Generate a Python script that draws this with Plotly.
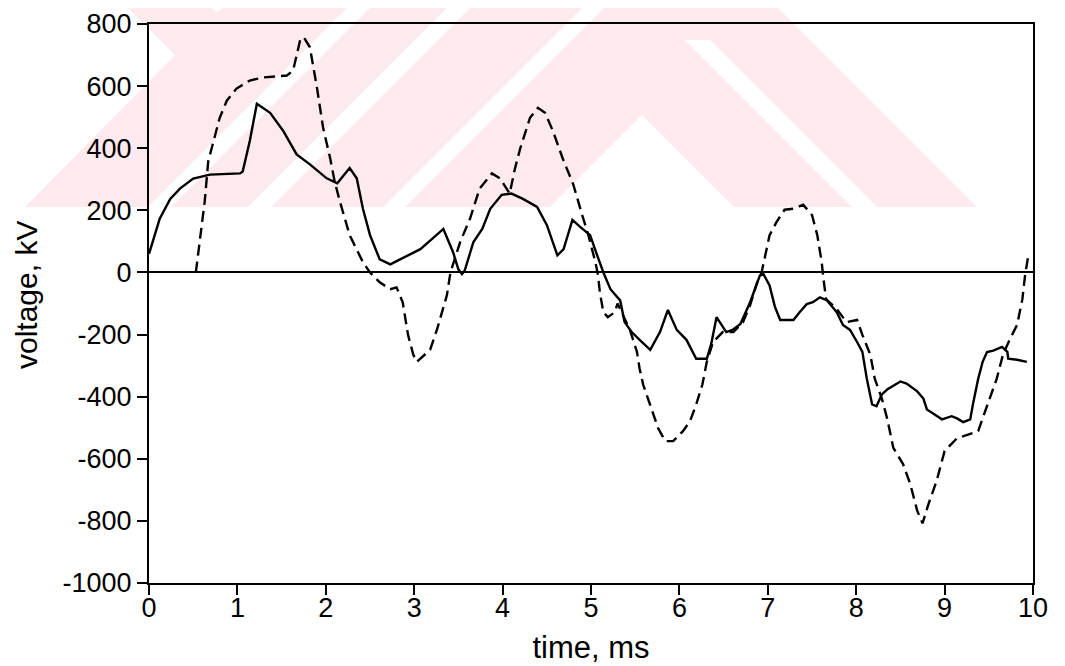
import plotly.graph_objects as go

# ---------------- data ----------------
solid_t = [0, 0.12, 0.24, 0.35, 0.5, 0.69, 1.03, 1.06, 1.14, 1.22, 1.37, 1.52, 1.67, 1.82,
           2.01, 2.13, 2.27, 2.35, 2.42, 2.5, 2.61, 2.73, 2.84, 3.07, 3.33, 3.44, 3.5, 3.54,
           3.57, 3.67, 3.77, 3.86, 3.99, 4.1, 4.23, 4.39, 4.5, 4.62, 4.69, 4.79, 4.88, 4.99,
           5.07, 5.14, 5.22, 5.33, 5.38, 5.46, 5.55, 5.67, 5.78, 5.87, 5.97, 6.08, 6.19,
           6.31, 6.36, 6.42, 6.53, 6.6, 6.69, 6.8, 6.91, 6.95, 7.02, 7.08, 7.14, 7.29, 7.36,
           7.44, 7.51, 7.59, 7.67, 7.78, 7.85, 7.93, 8.01, 8.07, 8.12, 8.18, 8.23, 8.29,
           8.35, 8.5, 8.57, 8.69, 8.76, 8.8, 8.87, 8.97, 9.08, 9.14, 9.21, 9.29, 9.32, 9.38,
           9.43, 9.48, 9.55, 9.65, 9.71, 9.72, 9.82, 9.93]
solid_kv = [60, 172, 237, 270, 302, 315, 319, 325, 423, 543, 514, 455, 380, 348,
            303, 287, 336, 303, 205, 120, 42, 26, 42, 75, 140, 65, 10, -5,
            5, 98, 140, 205, 250, 254, 237, 211, 153, 55, 75, 169, 146, 120,
            55, 0, -54, -90, -160, -192, -217, -249, -192, -121, -185, -217, -278,
            -278, -230, -144, -192, -185, -166, -96, -10, -5, -42, -110, -153, -153, -128,
            -102, -96, -80, -90, -128, -169, -185, -224, -256, -342, -425, -431, -393,
            -377, -351, -358, -383, -406, -441, -454, -473, -463, -470, -482, -473, -425, -342,
            -288, -256, -252, -240, -256, -278, -281, -288]

dashed_t = [0.53, 0.58, 0.63, 0.67, 0.73, 0.8, 0.88, 0.99, 1.14, 1.29, 1.56, 1.63, 1.71,
            1.75, 1.82, 1.9, 1.97, 2.05, 2.1, 2.16, 2.27, 2.42, 2.5, 2.61, 2.73, 2.8, 2.87,
            2.93, 2.99, 3.03, 3.18, 3.26, 3.37, 3.41, 3.52, 3.63, 3.74, 3.88, 3.97, 4.08,
            4.14, 4.2, 4.31, 4.4, 4.48, 4.57, 4.68, 4.8, 4.9, 4.97, 5.05, 5.08, 5.1, 5.14,
            5.19, 5.27, 5.3, 5.44, 5.52, 5.55, 5.59, 5.67, 5.76, 5.84, 5.93, 6.04, 6.12,
            6.19, 6.26, 6.31, 6.38, 6.49, 6.61, 6.72, 6.8, 6.88, 6.93, 7.02, 7.1, 7.19, 7.29,
            7.4, 7.5, 7.56, 7.61, 7.63, 7.66, 7.78, 7.89, 8.01, 8.07, 8.16, 8.21, 8.29, 8.35,
            8.42, 8.53, 8.61, 8.69, 8.75, 8.82, 8.91, 9.0, 9.14, 9.29, 9.38, 9.43, 9.51,
            9.59, 9.66, 9.74, 9.82, 9.88, 9.91, 9.95]
dashed_kv = [0, 120, 228, 358, 423, 498, 553, 592, 618, 628, 634, 650, 748,
             758, 725, 595, 465, 367, 293, 228, 120, 33, 0, -32, -54, -48, -96,
             -201, -265, -288, -249, -182, -73, 0, 98, 172, 270, 319, 303, 254,
             335, 400, 498, 530, 514, 455, 367, 283, 185, 120, 33, -10, -64, -128,
             -144, -128, -100, -185, -256, -310, -361, -425, -502, -543, -543, -511, -479,
             -425, -361, -288, -224, -192, -192, -160, -105, -32, 0, 120, 163, 202, 205,
             218, 185, 120, 33, -22, -86, -118, -160, -153, -201, -265, -342, -406, -470,
             -565, -617, -680, -767, -808, -744, -671, -575, -534, -521, -511, -470, -406,
             -342, -265, -214, -169, -86, -10, 60]

x_ticks = [0, 1, 2, 3, 4, 5, 6, 7, 8, 9, 10]
x_tick_text = ["0", "1", "2", "3", "4", "5", "6", "7", "8", "9", "10"]
y_ticks = [800, 600, 400, 200, 0, -200, -400, -600, -800, -1000]
y_tick_text = ["800", "600", "400", "200", "0", "-200", "-400", "-600", "-800", "-1000"]
x_title = "time, ms"
y_title = "voltage, kV"

# ---------------- figure ----------------
# the page body has an 8px margin, so the figure is drawn 8px right / down
OFF = 8
W, H = 1065 - OFF, 666 - OFF
ML, MT = 149 - OFF, 24 - OFF          # plot area left/top in page px: 149, 24
PLOT_R, PLOT_B = 1033 - OFF, 583 - OFF
MR, MB = W - PLOT_R, H - PLOT_B
PW, PH = W - ML - MR, H - MT - MB

def to_paper(px, py):
    fx, fy = px - OFF, py - OFF
    return (fx - ML) / PW, (H - MB - fy) / PH

def px2paper(pts):
    s = ""
    for i, (px, py) in enumerate(pts):
        ux, uy = to_paper(px, py)
        s += ("M" if i == 0 else "L") + f"{ux:.5f},{uy:.5f} "
    return s + "Z"

PINK = "rgb(253,234,238)"
shapes = []
# faint watermark behind the chart (page-pixel outlines converted to paper units)
wm_pink = [[(120, 0), (770, 0), (977, 207), (25, 207), (175, 55)]]
wm_white = [
    [(198, 0), (236, 0), (217, 12)],
    [(355, 0), (378, 0), (171, 207), (148, 207)],
    [(455, 0), (478, 0), (271, 207), (248, 207)],
    [(590, 0), (612, 0), (405, 207), (383, 207)],
    [(642, 115), (734, 207), (550, 207)],
    [(685, 40), (710, 40), (877, 207), (852, 207)],
]
for poly in wm_pink:
    shapes.append(dict(type="path", xref="paper", yref="paper", path=px2paper(poly),
                       fillcolor=PINK, line=dict(width=0), layer="below"))
for poly in wm_white:
    shapes.append(dict(type="path", xref="paper", yref="paper", path=px2paper(poly),
                       fillcolor="white", line=dict(width=0), layer="below"))

fig = go.Figure()
fig.add_trace(go.Scatter(x=solid_t, y=solid_kv, mode="lines",
                         line=dict(color="black", width=2.4), showlegend=False))
fig.add_trace(go.Scatter(x=dashed_t, y=dashed_kv, mode="lines",
                         line=dict(color="black", width=2.4, dash="11px,6px"), showlegend=False))

FONT = "Liberation Sans, Arial"
axis_common = dict(showgrid=False, showline=True, linecolor="black", linewidth=2,
                   mirror=True, ticks="outside", ticklen=10, tickwidth=2, tickcolor="black",
                   automargin=False,
                   tickfont=dict(family=FONT, size=27, color="black"))

ytx, yty = to_paper(26, 295)
fig.update_layout(
    width=W, height=H,
    margin=dict(l=ML, r=MR, t=MT, b=MB, pad=0),
    paper_bgcolor="white", plot_bgcolor="rgba(0,0,0,0)",
    shapes=shapes,
    annotations=[dict(text=y_title, xref="paper", yref="paper", x=ytx, y=yty,
                      xanchor="center", yanchor="middle", textangle=-90, showarrow=False,
                      font=dict(family=FONT, size=30, color="black"))],
    xaxis=dict(range=[0, 10], tickvals=x_ticks, ticktext=x_tick_text, zeroline=False,
               ticklabelstandoff=-10,
               title=dict(text=x_title, font=dict(family=FONT, size=31, color="black"),
                          standoff=14),
               **axis_common),
    yaxis=dict(range=[-1000, 800], tickvals=y_ticks, ticktext=y_tick_text,
               zeroline=True, zerolinecolor="black", zerolinewidth=2,
               **axis_common),
)

fig.write_html("out.html")
